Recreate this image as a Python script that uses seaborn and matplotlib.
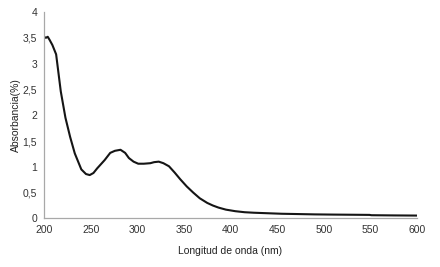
import matplotlib
matplotlib.use('Agg')
import matplotlib.pyplot as plt
import seaborn as sns
import pandas as pd

# Espectro UV-Vis
longitud = [200, 202, 204, 206, 209, 213, 218, 223, 228, 233, 240, 245, 249, 253,
            257, 260, 265, 271, 276, 282, 287, 291, 296, 301, 307, 314, 318, 323,
            328, 334, 340, 346, 353, 360, 367, 375, 381, 387, 395, 405, 415, 425,
            440, 455, 470, 490, 510, 530, 549, 551, 575, 600]
absorbancia = [3.52, 3.50, 3.52, 3.46, 3.36, 3.18, 2.46, 1.95, 1.58, 1.26, 0.95, 0.86, 0.84, 0.88,
               0.97, 1.03, 1.13, 1.27, 1.31, 1.33, 1.27, 1.17, 1.10, 1.06, 1.06, 1.07, 1.09, 1.10,
               1.07, 1.01, 0.89, 0.76, 0.62, 0.50, 0.39, 0.30, 0.25, 0.21, 0.17, 0.14, 0.12, 0.11,
               0.10, 0.09, 0.085, 0.078, 0.074, 0.071, 0.068, 0.062, 0.058, 0.055]

df = pd.DataFrame({'Longitud de onda (nm)': longitud, 'Absorbancia(%)': absorbancia})

sns.set_style('white')
plt.rcParams['font.family'] = ['Liberation Sans', 'DejaVu Sans']

fig = plt.figure(figsize=(4.4, 2.67), dpi=100)
ax = fig.add_axes([0.1, 0.182, 0.848, 0.773])
sns.lineplot(data=df, x='Longitud de onda (nm)', y='Absorbancia(%)', ax=ax,
             color='#151515', linewidth=1.5)

ax.set_xlim(200, 600)
ax.set_ylim(0, 4)
ax.set_xticks(range(200, 601, 50))
ax.set_yticks([0, 0.5, 1, 1.5, 2, 2.5, 3, 3.5, 4])
ax.set_yticklabels(['0', '0,5', '1', '1,5', '2', '2,5', '3', '3,5', '4'])
ax.tick_params(labelsize=7.5, colors='#333333', length=0, pad=5)
ax.set_xlabel('Longitud de onda (nm)', fontsize=7.5, color='#222222', labelpad=8)
ax.set_ylabel('Absorbancia(%)', fontsize=7.5, color='#222222', labelpad=1)
for s in ['top', 'right']:
    ax.spines[s].set_visible(False)
for s in ['left', 'bottom']:
    ax.spines[s].set_color('#a8a8a8')
    ax.spines[s].set_linewidth(0.9)

fig.savefig('out.png', dpi=100)
